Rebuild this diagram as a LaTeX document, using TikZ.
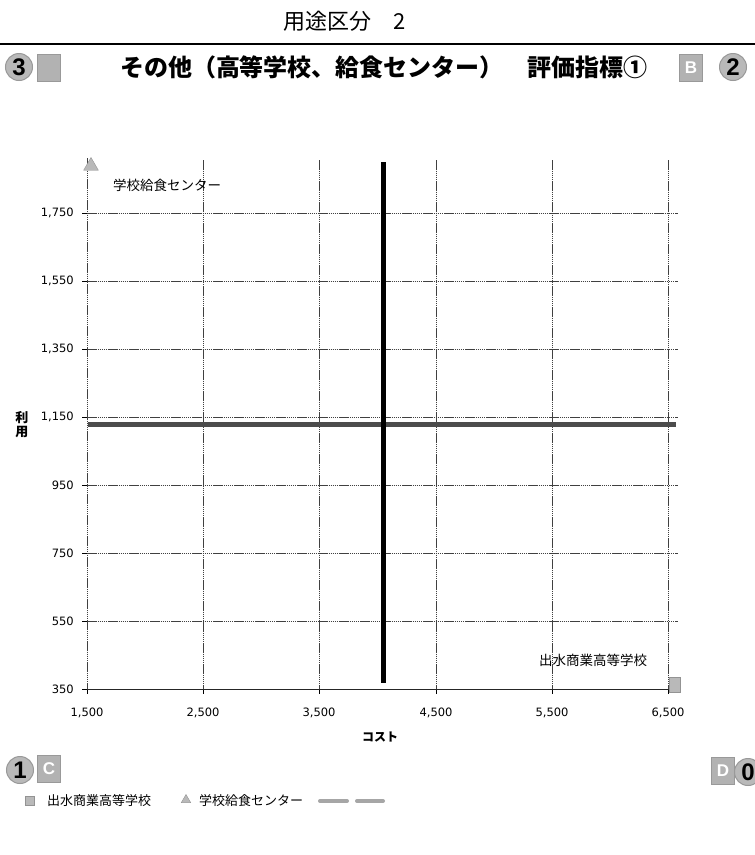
\documentclass[tikz,border=0pt]{standalone}
\usepackage{fontspec}
\setmainfont{Liberation Sans}
\newfontfamily\jp{Noto Sans CJK JP}
\newfontfamily\numf{DejaVu Sans}
\usetikzlibrary{shapes.geometric}
\tikzset{
  gridln/.style={black!75, line width=1pt, dash pattern=on 1.5pt off 0.6pt},
  axisln/.style={black!85, line width=1pt},
  tickln/.style={black, line width=0.8pt},
  ylab/.style={font=\numf\fontsize{11.5}{11.5}\selectfont, anchor=east, inner sep=0pt},
  xlab/.style={font=\numf\fontsize{11.5}{11.5}\selectfont, anchor=center, inner sep=0pt},
  jplab/.style={font=\jp\fontsize{13.5}{13.5}\selectfont, inner sep=0pt},
  badgecirc/.style={circle, fill=gray!55, draw=gray!80, line width=1pt, minimum size=27pt, inner sep=0pt, font=\bfseries\fontsize{24}{24}\selectfont},
  badgebox/.style={rectangle, fill=gray!60, draw=gray!80, line width=0.6pt, minimum width=23pt, minimum height=27pt, inner sep=0pt, text=white, font=\bfseries\fontsize{17}{17}\selectfont},
  meanln/.style={line width=5pt, black!80},
  legln/.style={line width=4pt, gray!70, line cap=round},
  trimark/.style={regular polygon, regular polygon sides=3, fill=gray!55, draw=gray!85, minimum size=17pt, inner sep=0pt},
  sqmark/.style={rectangle, fill=gray!55, draw=gray!85, minimum width=11pt, minimum height=15pt, inner sep=0pt},
}
\begin{document}
\begin{tikzpicture}[x=1pt,y=-1pt]
\clip (0,0) rectangle (755,855);
\fill[white] (0,0) rectangle (755,855);
% header
\node[font=\jp\fontsize{22}{22}\selectfont, inner sep=0pt] (head) at (345,21) {用途区分\hspace{1em}2};
\draw[line width=2pt] (0,44) -- (755,44);
\node[font=\jp\bfseries\fontsize{24}{24}\selectfont, inner sep=0pt] (title) at (384,67) {その他（高等学校、給食センター）　評価指標①};
\node[badgecirc] (b3) at (19,67) {3};
\node[badgebox] (bx3) at (49,68) {};
\node[badgebox] (bxB) at (691,68) {B};
\node[badgecirc] (b2) at (733,67) {2};
% grid
\foreach \yy in {213,281,349,417,485,553,621}{
  \draw[gridln] (87,\yy) -- (678,\yy);
  \draw[tickln] (82,\yy) -- (87,\yy);
}
\foreach \xx in {203,319,436,552,668}{
  \draw[gridln] (\xx,160) -- (\xx,689);
  \draw[tickln] (\xx,689) -- (\xx,694);
}
\draw[gridln] (87,158) -- (87,689);
\draw[tickln] (82,689) -- (87,689);
\draw[tickln] (87,689) -- (87,694);
\draw[axisln] (87,689) -- (678,689);
% y labels
\node[ylab] (y1750) at (74,213) {1,750};
\node[ylab] (y1550) at (74,281) {1,550};
\node[ylab] (y1350) at (74,349) {1,350};
\node[ylab] (y1150) at (74,417) {1,150};
\node[ylab] (y950) at (74,485) {950};
\node[ylab] (y750) at (74,553) {750};
\node[ylab] (y550) at (74,621) {550};
\node[ylab] (y350) at (74,689) {350};
% x labels
\node[xlab] (x1500) at (87,713) {1,500};
\node[xlab] (x2500) at (203,713) {2,500};
\node[xlab] (x3500) at (319,713) {3,500};
\node[xlab] (x4500) at (436,713) {4,500};
\node[xlab] (x5500) at (552,713) {5,500};
\node[xlab] (x6500) at (668,713) {6,500};
\node[font=\jp\bfseries\fontsize{12}{12}\selectfont, inner sep=0pt] (xtitle) at (380,737) {コスト};
\node[font=\jp\bfseries\fontsize{13}{14}\selectfont, inner sep=0pt, align=center] (ytitle) at (22,425) {利\\用};
% mean lines
\coordinate (vtop) at (383,162);
\coordinate (vbot) at (383,683);
\coordinate (hl) at (88,424);
\coordinate (hr) at (676,424);
\draw[meanln, black!70] (hl) -- (hr);
\draw[meanln, black] (vtop) -- (vbot);
% points
\node[trimark] (pcenter) at (91,166) {};
\node[jplab, anchor=west] (lcenter) at (113,185) {学校給食センター};
\node[sqmark] (pschool) at (675,685) {};
\node[jplab, anchor=center] (lschool) at (593,660) {出水商業高等学校};
% bottom badges
\node[badgecirc] (b1) at (20,770) {1};
\node[badgebox] (bxC) at (49,769) {C};
\node[badgebox] (bxD) at (723,771) {D};
\node[badgecirc] (b0) at (748,772) {0};
% legend
\node[sqmark, minimum width=9pt, minimum height=9pt] (legsq) at (30,801) {};
\node[jplab, anchor=west, font=\jp\fontsize{13}{13}\selectfont] (legschool) at (47,801) {出水商業高等学校};
\node[trimark, minimum size=11pt] (legtri) at (186,800) {};
\node[jplab, anchor=west, font=\jp\fontsize{13}{13}\selectfont] (legcenter) at (199,801) {学校給食センター};
\coordinate (la1) at (320,801);
\coordinate (la2) at (347,801);
\coordinate (lb1) at (357,801);
\coordinate (lb2) at (383,801);
\draw[legln] (la1) -- (la2);
\draw[legln] (lb1) -- (lb2);
\end{tikzpicture}
\end{document}
